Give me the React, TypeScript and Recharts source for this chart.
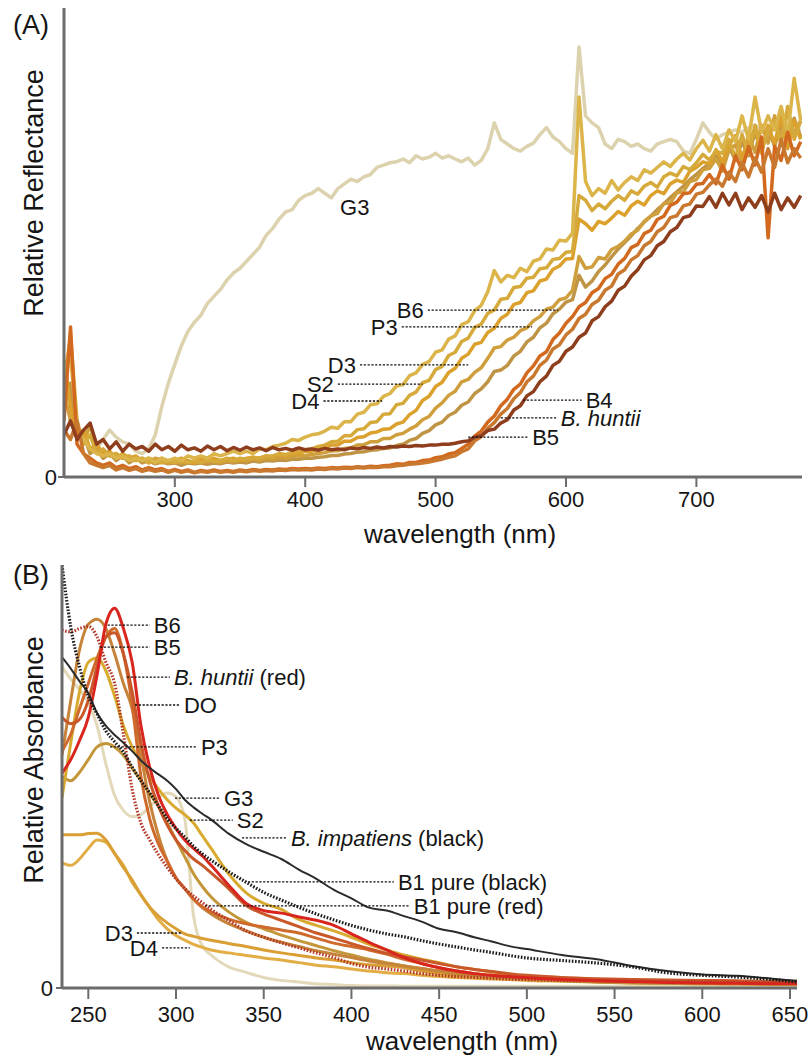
import { LineChart, Line, XAxis, YAxis, ReferenceLine, ReferenceDot } from "recharts";

const FONT = '"Liberation Sans", Arial, Helvetica, sans-serif';
const AXIS = "#6c6c6c";
const INK = "#151515";

// ---- (A) reflectance, 5 nm grid ----
const WL_A = [
  215, 220, 225, 230, 235, 240, 245, 250, 255, 260, 265, 270, 275, 280, 285, 290, 295, 300, 305, 310,
  315, 320, 325, 330, 335, 340, 345, 350, 355, 360, 365, 370, 375, 380, 385, 390, 395, 400, 405, 410,
  415, 420, 425, 430, 435, 440, 445, 450, 455, 460, 465, 470, 475, 480, 485, 490, 495, 500, 505, 510,
  515, 520, 525, 530, 535, 540, 545, 550, 555, 560, 565, 570, 575, 580, 585, 590, 595, 600, 605, 610,
  615, 620, 625, 630, 635, 640, 645, 650, 655, 660, 665, 670, 675, 680, 685, 690, 695, 700, 705, 710,
  715, 720, 725, 730, 735, 740, 745, 750, 755, 760, 765, 770, 775, 780,
];

const G3_A = [
  null, null, null, null, null, 0.06, 0.08, 0.1, 0.085, 0.075,
  0.07, 0.055, 0.05, 0.06, 0.09, 0.15, 0.2, 0.24, 0.28, 0.31,
  0.33, 0.345, 0.37, 0.385, 0.4, 0.42, 0.435, 0.445, 0.46, 0.475,
  0.49, 0.515, 0.53, 0.55, 0.565, 0.57, 0.59, 0.6, 0.605, 0.615,
  0.605, 0.595, 0.615, 0.625, 0.635, 0.63, 0.64, 0.645, 0.66, 0.665,
  0.67, 0.672, 0.678, 0.67, 0.685, 0.678, 0.682, 0.69, 0.68, 0.685,
  0.678, 0.672, 0.68, 0.665, 0.675, 0.7, 0.755, 0.72, 0.71, 0.7,
  0.695, 0.705, 0.712, 0.73, 0.745, 0.725, 0.715, 0.7, 0.69, 0.917,
  0.77, 0.755, 0.745, 0.71, 0.7, 0.72, 0.715, 0.705, 0.71, 0.7,
  0.695, 0.71, 0.715, 0.72, 0.715, 0.695, 0.69, 0.72, 0.755, 0.735,
  0.72, 0.73, 0.735, 0.74, 0.735, 0.745, 0.75, 0.74, 0.745, 0.75,
  0.74, 0.745, 0.74, 0.74,
];
const B6_A = [
  0.15, 0.2, 0.08, 0.09, 0.05, 0.06, 0.04, 0.05, 0.035, 0.045,
  0.03, 0.04, 0.03, 0.035, 0.028, 0.032, 0.028, 0.03, 0.025, 0.03,
  0.028, 0.03, 0.027, 0.03, 0.028, 0.032, 0.03, 0.032, 0.03, 0.034,
  0.032, 0.035, 0.034, 0.036, 0.035, 0.038, 0.038, 0.04, 0.04, 0.042,
  0.043, 0.046, 0.046, 0.049, 0.05, 0.053, 0.054, 0.057, 0.058, 0.061,
  0.062, 0.067, 0.07, 0.078, 0.082, 0.093, 0.099, 0.111, 0.117, 0.131,
  0.138, 0.153, 0.16, 0.178, 0.188, 0.203, 0.225, 0.228, 0.238, 0.258,
  0.268, 0.288, 0.298, 0.318, 0.328, 0.348, 0.358, 0.373, 0.378, 0.43,
  0.405, 0.418, 0.438, 0.452, 0.47, 0.486, 0.5, 0.514, 0.53, 0.543,
  0.556, 0.57, 0.582, 0.596, 0.608, 0.62, 0.634, 0.645, 0.658, 0.668,
  0.685, 0.665, 0.705, 0.675, 0.715, 0.685, 0.735, 0.695, 0.745, 0.705,
  0.755, 0.715, 0.765, 0.725,
];
const P3_A = [
  0.18, 0.12, 0.1, 0.075, 0.11, 0.06, 0.05, 0.045, 0.05, 0.04,
  0.045, 0.035, 0.04, 0.03, 0.04, 0.035, 0.03, 0.035, 0.03, 0.035,
  0.03, 0.035, 0.032, 0.035, 0.03, 0.035, 0.032, 0.036, 0.034, 0.038,
  0.036, 0.04, 0.038, 0.042, 0.04, 0.044, 0.045, 0.046, 0.048, 0.05,
  0.052, 0.056, 0.056, 0.061, 0.062, 0.068, 0.069, 0.075, 0.075, 0.082,
  0.082, 0.09, 0.093, 0.102, 0.109, 0.122, 0.129, 0.147, 0.158, 0.174,
  0.183, 0.203, 0.208, 0.223, 0.233, 0.253, 0.275, 0.278, 0.292, 0.298,
  0.312, 0.318, 0.333, 0.342, 0.358, 0.362, 0.378, 0.382, 0.398, 0.47,
  0.445, 0.448, 0.468, 0.465, 0.485, 0.492, 0.503, 0.518, 0.526, 0.545,
  0.556, 0.562, 0.583, 0.584, 0.606, 0.608, 0.63, 0.634, 0.655, 0.658,
  0.678, 0.652, 0.698, 0.708, 0.672, 0.728, 0.692, 0.75, 0.712, 0.77,
  0.72, 0.78, 0.73, 0.76,
];
const D3_A = [
  0.25, 0.15, 0.09, 0.1, 0.06, 0.07, 0.05, 0.055, 0.04, 0.05,
  0.04, 0.045, 0.035, 0.04, 0.035, 0.04, 0.03, 0.035, 0.04, 0.035,
  0.03, 0.04, 0.035, 0.04, 0.035, 0.038, 0.04, 0.035, 0.04, 0.042,
  0.04, 0.045, 0.042, 0.048, 0.045, 0.05, 0.05, 0.055, 0.055, 0.06,
  0.062, 0.068, 0.068, 0.076, 0.076, 0.084, 0.086, 0.094, 0.096, 0.102,
  0.103, 0.113, 0.117, 0.133, 0.142, 0.163, 0.172, 0.193, 0.202, 0.223,
  0.232, 0.253, 0.262, 0.283, 0.287, 0.308, 0.317, 0.338, 0.347, 0.368,
  0.372, 0.393, 0.397, 0.418, 0.422, 0.443, 0.45, 0.465, 0.466, 0.55,
  0.54, 0.526, 0.545, 0.54, 0.552, 0.566, 0.558, 0.578, 0.588, 0.58,
  0.6, 0.61, 0.604, 0.625, 0.633, 0.628, 0.652, 0.66, 0.672, 0.668,
  0.698, 0.672, 0.708, 0.728, 0.68, 0.72, 0.74, 0.69, 0.75, 0.71,
  0.77, 0.7, 0.76, 0.72,
];
const S2_A = [
  0.2, 0.3, 0.12, 0.07, 0.09, 0.05, 0.06, 0.045, 0.05, 0.04,
  0.045, 0.035, 0.04, 0.03, 0.035, 0.03, 0.035, 0.03, 0.035, 0.03,
  0.035, 0.03, 0.038, 0.032, 0.035, 0.04, 0.035, 0.04, 0.038, 0.042,
  0.04, 0.045, 0.045, 0.05, 0.048, 0.052, 0.055, 0.058, 0.06, 0.065,
  0.068, 0.075, 0.076, 0.088, 0.088, 0.101, 0.103, 0.116, 0.118, 0.134,
  0.135, 0.154, 0.157, 0.174, 0.181, 0.201, 0.206, 0.229, 0.236, 0.259,
  0.266, 0.289, 0.296, 0.319, 0.326, 0.349, 0.356, 0.379, 0.381, 0.404,
  0.406, 0.424, 0.426, 0.444, 0.446, 0.464, 0.466, 0.479, 0.481, 0.6,
  0.59, 0.568, 0.582, 0.572, 0.588, 0.6, 0.59, 0.61, 0.603, 0.62,
  0.628, 0.618, 0.64, 0.648, 0.642, 0.662, 0.655, 0.67, 0.688, 0.676,
  0.695, 0.69, 0.72, 0.68, 0.73, 0.69, 0.75, 0.7, 0.74, 0.76,
  0.71, 0.79, 0.72, 0.76,
];
const D4_A = [
  0.22, 0.26, 0.1, 0.08, 0.06, 0.05, 0.045, 0.05, 0.04, 0.045,
  0.035, 0.04, 0.035, 0.04, 0.03, 0.04, 0.035, 0.04, 0.035, 0.045,
  0.04, 0.045, 0.04, 0.05, 0.045, 0.05, 0.055, 0.05, 0.055, 0.05,
  0.06, 0.058, 0.065, 0.068, 0.072, 0.08, 0.078, 0.085, 0.09, 0.092,
  0.098, 0.106, 0.104, 0.118, 0.118, 0.134, 0.138, 0.154, 0.156, 0.172,
  0.178, 0.194, 0.197, 0.216, 0.222, 0.24, 0.246, 0.266, 0.271, 0.294,
  0.301, 0.325, 0.331, 0.355, 0.366, 0.395, 0.44, 0.416, 0.43, 0.425,
  0.445, 0.438, 0.46, 0.465, 0.486, 0.484, 0.505, 0.503, 0.52, 0.81,
  0.63, 0.6, 0.615, 0.605, 0.632, 0.612, 0.628, 0.64, 0.632, 0.655,
  0.648, 0.66, 0.672, 0.662, 0.678, 0.69, 0.676, 0.7, 0.718, 0.695,
  0.73, 0.7, 0.74, 0.715, 0.77, 0.72, 0.81, 0.735, 0.77, 0.74,
  0.79, 0.73, 0.85, 0.76,
];
const B4_A = [
  0.12, 0.32, 0.07, 0.05, 0.04, 0.03, 0.025, 0.03, 0.02, 0.025,
  0.018, 0.022, 0.015, 0.02, 0.015, 0.018, 0.012, 0.016, 0.012, 0.015,
  0.01, 0.014, 0.012, 0.015, 0.012, 0.014, 0.012, 0.015, 0.013, 0.016,
  0.014, 0.016, 0.015, 0.017, 0.016, 0.018, 0.017, 0.018, 0.017, 0.019,
  0.018, 0.02, 0.019, 0.021, 0.02, 0.022, 0.021, 0.023, 0.022, 0.024,
  0.025, 0.028, 0.027, 0.031, 0.031, 0.035, 0.036, 0.041, 0.043, 0.049,
  0.052, 0.061, 0.07, 0.087, 0.098, 0.117, 0.13, 0.152, 0.166, 0.187,
  0.198, 0.222, 0.237, 0.258, 0.267, 0.293, 0.307, 0.328, 0.342, 0.363,
  0.372, 0.393, 0.402, 0.423, 0.432, 0.454, 0.466, 0.489, 0.496, 0.519,
  0.526, 0.549, 0.556, 0.579, 0.586, 0.604, 0.606, 0.624, 0.626, 0.645,
  0.625, 0.665, 0.635, 0.685, 0.655, 0.705, 0.665, 0.725, 0.51, 0.705,
  0.675, 0.735, 0.685, 0.715,
];
const BHUNTII_A = [
  0.1, 0.08, 0.12, 0.05, 0.03, 0.025, 0.02, 0.025, 0.015, 0.02,
  0.014, 0.018, 0.012, 0.016, 0.012, 0.015, 0.01, 0.014, 0.01, 0.013,
  0.009, 0.012, 0.01, 0.013, 0.01, 0.012, 0.01, 0.013, 0.011, 0.014,
  0.012, 0.014, 0.013, 0.015, 0.014, 0.016, 0.015, 0.016, 0.015, 0.017,
  0.016, 0.018, 0.017, 0.019, 0.018, 0.02, 0.019, 0.021, 0.02, 0.022,
  0.022, 0.024, 0.025, 0.027, 0.028, 0.03, 0.032, 0.035, 0.038, 0.042,
  0.045, 0.054, 0.06, 0.077, 0.086, 0.104, 0.116, 0.134, 0.146, 0.167,
  0.18, 0.203, 0.215, 0.238, 0.249, 0.273, 0.282, 0.303, 0.315, 0.338,
  0.347, 0.368, 0.377, 0.398, 0.407, 0.433, 0.442, 0.463, 0.472, 0.493,
  0.502, 0.523, 0.532, 0.553, 0.557, 0.578, 0.582, 0.603, 0.607, 0.623,
  0.635, 0.62, 0.65, 0.63, 0.67, 0.64, 0.68, 0.65, 0.7, 0.66,
  0.72, 0.67, 0.7, 0.68,
];
const B5_A = [
  0.09, 0.12, 0.08, 0.1, 0.115, 0.07, 0.08, 0.06, 0.075, 0.055,
  0.07, 0.06, 0.065, 0.055, 0.07, 0.058, 0.065, 0.055, 0.068, 0.058,
  0.062, 0.055, 0.066, 0.058, 0.065, 0.056, 0.063, 0.057, 0.064, 0.058,
  0.062, 0.056, 0.063, 0.058, 0.061, 0.057, 0.062, 0.058, 0.06, 0.057,
  0.061, 0.058, 0.06, 0.058, 0.062, 0.06, 0.063, 0.061, 0.064, 0.062,
  0.065, 0.064, 0.066, 0.065, 0.067, 0.066, 0.068, 0.068, 0.07, 0.07,
  0.072, 0.075, 0.077, 0.085, 0.088, 0.099, 0.102, 0.115, 0.122, 0.143,
  0.152, 0.173, 0.182, 0.203, 0.215, 0.238, 0.247, 0.268, 0.277, 0.298,
  0.307, 0.333, 0.342, 0.363, 0.375, 0.398, 0.407, 0.428, 0.442, 0.463,
  0.472, 0.493, 0.502, 0.523, 0.532, 0.553, 0.557, 0.578, 0.577, 0.598,
  0.575, 0.605, 0.58, 0.605, 0.57, 0.595, 0.575, 0.6, 0.565, 0.605,
  0.57, 0.595, 0.575, 0.6,
];

// ---- (B) absorbance ----
const WL_B = [
  235, 240, 245, 250, 255, 260, 265, 270, 275, 280, 285, 290, 295, 300, 305, 310, 315, 320, 330, 340,
  350, 360, 370, 380, 390, 400, 410, 420, 430, 440, 450, 460, 470, 480, 490, 500, 520, 540, 560, 580,
  600, 620, 640, 654,
];
const G3_B = [
  0.76, 0.73, 0.705, 0.675, 0.62, 0.53, 0.455, 0.42, 0.405, 0.41,
  0.428, 0.45, 0.461, 0.452, 0.4, 0.17, 0.1, 0.078, 0.05, 0.037,
  0.025, 0.018, 0.014, 0.01, 0.008, 0.006, 0.005, 0.005, 0.004, 0.004,
  0.004, 0.004, 0.004, 0.004, 0.004, 0.004, 0.004, 0.004, 0.004, 0.004,
  0.004, 0.004, 0.004, 0.004,
];
const D4_B = [
  0.296, 0.29, 0.305, 0.33, 0.35, 0.345, 0.318, 0.29, 0.25, 0.22,
  0.19, 0.161, 0.14, 0.124, 0.113, 0.103, 0.096, 0.09, 0.083, 0.077,
  0.071, 0.066, 0.06, 0.054, 0.05, 0.045, 0.04, 0.036, 0.034, 0.03,
  0.027, 0.025, 0.023, 0.021, 0.02, 0.018, 0.016, 0.014, 0.012, 0.011,
  0.01, 0.01, 0.009, 0.009,
];
const D3_B = [
  0.362, 0.362, 0.362, 0.365, 0.366, 0.35, 0.318, 0.285, 0.255, 0.22,
  0.191, 0.17, 0.154, 0.14, 0.128, 0.122, 0.117, 0.113, 0.105, 0.098,
  0.09, 0.083, 0.077, 0.071, 0.066, 0.06, 0.055, 0.052, 0.048, 0.04,
  0.034, 0.03, 0.027, 0.024, 0.022, 0.02, 0.017, 0.015, 0.013, 0.012,
  0.011, 0.01, 0.01, 0.01,
];
const P3_B = [
  0.5, 0.49, 0.51, 0.54, 0.57, 0.578, 0.57, 0.55, 0.52, 0.49,
  0.46, 0.43, 0.39, 0.35, 0.31, 0.27, 0.24, 0.215, 0.18, 0.155,
  0.14, 0.125, 0.112, 0.1, 0.088, 0.078, 0.068, 0.06, 0.052, 0.046,
  0.04, 0.035, 0.03, 0.027, 0.024, 0.021, 0.017, 0.014, 0.012, 0.011,
  0.01, 0.01, 0.009, 0.009,
];
const S2_B = [
  0.45, 0.58, 0.7, 0.77, 0.78, 0.75, 0.69, 0.62, 0.57, 0.535,
  0.5, 0.47, 0.445, 0.425, 0.41, 0.39, 0.36, 0.33, 0.27, 0.225,
  0.2, 0.186, 0.162, 0.148, 0.135, 0.12, 0.103, 0.09, 0.078, 0.068,
  0.06, 0.05, 0.044, 0.038, 0.032, 0.027, 0.022, 0.018, 0.016, 0.014,
  0.013, 0.012, 0.012, 0.011,
];
const DO_B = [
  0.55, 0.68, 0.8, 0.86, 0.872, 0.85, 0.79, 0.72, 0.66, 0.55,
  0.44, 0.36, 0.3, 0.26, 0.235, 0.21, 0.19, 0.175, 0.152, 0.135,
  0.12, 0.108, 0.098, 0.088, 0.08, 0.072, 0.064, 0.058, 0.052, 0.046,
  0.04, 0.035, 0.031, 0.028, 0.025, 0.022, 0.018, 0.015, 0.013, 0.012,
  0.011, 0.01, 0.01, 0.01,
];
const B5_B = [
  0.56, 0.6, 0.66, 0.72, 0.78, 0.83, 0.85, 0.79, 0.67, 0.5,
  0.4, 0.34, 0.3, 0.26, 0.235, 0.21, 0.192, 0.18, 0.163, 0.152,
  0.144, 0.137, 0.13, 0.118, 0.106, 0.098, 0.09, 0.08, 0.068, 0.058,
  0.048, 0.04, 0.034, 0.03, 0.027, 0.025, 0.022, 0.02, 0.018, 0.017,
  0.016, 0.015, 0.015, 0.015,
];
const BHUNTII_B = [
  0.64, 0.625, 0.635, 0.68, 0.76, 0.83, 0.84, 0.79, 0.7, 0.58,
  0.49, 0.43, 0.385, 0.35, 0.325, 0.305, 0.29, 0.272, 0.235, 0.195,
  0.175, 0.16, 0.145, 0.13, 0.118, 0.105, 0.093, 0.082, 0.074, 0.066,
  0.058, 0.05, 0.044, 0.039, 0.034, 0.03, 0.025, 0.022, 0.02, 0.019,
  0.018, 0.017, 0.016, 0.016,
];
const B1RED_B = [
  0.846, 0.842, 0.85, 0.855, 0.83, 0.77, 0.72, 0.6, 0.47, 0.39,
  0.35, 0.315, 0.285, 0.258, 0.235, 0.217, 0.202, 0.186, 0.16, 0.135,
  0.12, 0.107, 0.095, 0.083, 0.072, 0.058, 0.049, 0.045, 0.04, 0.034,
  0.03, 0.027, 0.025, 0.023, 0.021, 0.02, 0.018, 0.017, 0.016, 0.015,
  0.014, 0.013, 0.012, 0.012,
];
const B6_B = [
  0.508, 0.54, 0.585, 0.64, 0.74, 0.86, 0.898, 0.85, 0.77, 0.62,
  0.522, 0.455, 0.41, 0.377, 0.35, 0.33, 0.312, 0.29, 0.243, 0.2,
  0.183, 0.177, 0.168, 0.16, 0.148, 0.128, 0.108, 0.09, 0.072, 0.058,
  0.048, 0.04, 0.034, 0.03, 0.027, 0.024, 0.02, 0.017, 0.015, 0.013,
  0.012, 0.011, 0.01, 0.01,
];
const BIMP_B = [
  0.782, 0.755, 0.725, 0.697, 0.65, 0.62, 0.598, 0.58, 0.56, 0.538,
  0.52, 0.505, 0.49, 0.47, 0.445, 0.427, 0.412, 0.398, 0.365, 0.34,
  0.322, 0.305, 0.28, 0.258, 0.232, 0.212, 0.19, 0.183, 0.17, 0.157,
  0.14, 0.132, 0.12, 0.11, 0.099, 0.092, 0.078, 0.068, 0.052, 0.04,
  0.032, 0.029, 0.022, 0.017,
];
const B1BLACK_B = [
  1.0, 0.853, 0.759, 0.69, 0.648, 0.608, 0.582, 0.558, 0.522, 0.49,
  0.461, 0.43, 0.4, 0.377, 0.357, 0.335, 0.317, 0.302, 0.275, 0.25,
  0.226, 0.208, 0.191, 0.175, 0.161, 0.148, 0.137, 0.128, 0.121, 0.112,
  0.104, 0.097, 0.09, 0.084, 0.077, 0.071, 0.065, 0.059, 0.05, 0.036,
  0.03, 0.026, 0.02, 0.014,
];

const rowsA = WL_A.map((w, i) => ({
  w, G3: G3_A[i], B6: B6_A[i], P3: P3_A[i], D3: D3_A[i], S2: S2_A[i], D4: D4_A[i],
  B4: B4_A[i], BH: BHUNTII_A[i], B5: B5_A[i],
}));
const rowsB = WL_B.map((w, i) => ({
  w, G3: G3_B[i], D4: D4_B[i], D3: D3_B[i], P3: P3_B[i], S2: S2_B[i], DO: DO_B[i], B5: B5_B[i],
  BH: BHUNTII_B[i], B1R: B1RED_B[i], B6: B6_B[i], BI: BIMP_B[i], B1K: B1BLACK_B[i],
}));

const SERIES_A = [
  { key: "G3", color: "#dcd2ae" },
  { key: "B6", color: "#bf9545" },
  { key: "P3", color: "#cf9f3e" },
  { key: "D3", color: "#dca02c" },
  { key: "S2", color: "#d6aa3a" },
  { key: "D4", color: "#dbb44a" },
  { key: "B4", color: "#d2691f" },
  { key: "BH", color: "#c9782f" },
  { key: "B5", color: "#8e3e1c" },
];
const SERIES_B = [
  { key: "G3", color: "#e3d8b9", w: 3, dash: undefined },
  { key: "D4", color: "#e2ad45", w: 3, dash: undefined },
  { key: "D3", color: "#d99f35", w: 3, dash: undefined },
  { key: "P3", color: "#c4963a", w: 3, dash: undefined },
  { key: "S2", color: "#d8aa30", w: 3, dash: undefined },
  { key: "DO", color: "#c6843a", w: 3, dash: undefined },
  { key: "B5", color: "#d06a2c", w: 3, dash: undefined },
  { key: "BH", color: "#c8582a", w: 3, dash: undefined },
  { key: "B1R", color: "#b43a2a", w: 3.2, dash: "1.6 1.6" },
  { key: "B6", color: "#d8261e", w: 3, dash: undefined },
  { key: "BI", color: "#2b2b2b", w: 2, dash: undefined },
  { key: "B1K", color: "#1c1c1c", w: 3.2, dash: "1.6 1.6" },
];

type Part = { t: string; i?: boolean };
type Leader = { parts: Part[]; x1: number; x2: number; y: number; side: "left" | "right" };

const LEADERS_A: Leader[] = [
  { parts: [{ t: "B6" }], x1: 494, x2: 594, y: 0.356, side: "left" },
  { parts: [{ t: "P3" }], x1: 474, x2: 574, y: 0.32, side: "left" },
  { parts: [{ t: "D3" }], x1: 442, x2: 525, y: 0.239, side: "left" },
  { parts: [{ t: "S2" }], x1: 425, x2: 490, y: 0.198, side: "left" },
  { parts: [{ t: "D4" }], x1: 414, x2: 459, y: 0.162, side: "left" },
  { parts: [{ t: "B4" }], x1: 567, x2: 612, y: 0.164, side: "right" },
  { parts: [{ t: "B. huntii", i: true }], x1: 550, x2: 593, y: 0.126, side: "right" },
  { parts: [{ t: "B5" }], x1: 525, x2: 571, y: 0.085, side: "right" },
];
const LEADERS_B: Leader[] = [
  { parts: [{ t: "B6" }], x1: 261, x2: 285, y: 0.858, side: "right" },
  { parts: [{ t: "B5" }], x1: 256.7, x2: 285, y: 0.806, side: "right" },
  { parts: [{ t: "B. huntii", i: true }, { t: " (red)" }], x1: 272, x2: 296.5, y: 0.735, side: "right" },
  { parts: [{ t: "DO" }], x1: 276.6, x2: 302.2, y: 0.669, side: "right" },
  { parts: [{ t: "P3" }], x1: 262.4, x2: 311.9, y: 0.57, side: "right" },
  { parts: [{ t: "G3" }], x1: 299.4, x2: 325, y: 0.449, side: "right" },
  { parts: [{ t: "S2" }], x1: 307.9, x2: 332.4, y: 0.397, side: "right" },
  { parts: [{ t: "B. impatiens", i: true }, { t: " (black)" }], x1: 337.6, x2: 363.2, y: 0.355, side: "right" },
  { parts: [{ t: "B1 pure (black)" }], x1: 341, x2: 424.2, y: 0.251, side: "right" },
  { parts: [{ t: "B1 pure (red)" }], x1: 316.5, x2: 433.3, y: 0.194, side: "right" },
  { parts: [{ t: "D3" }], x1: 277.7, x2: 303.4, y: 0.13, side: "left" },
  { parts: [{ t: "D4" }], x1: 292, x2: 307.9, y: 0.095, side: "left" },
];

function leaderText(parts: Part[], side: "left" | "right") {
  return (props: any) => {
    const vb = props.viewBox || {};
    const x = side === "right" ? vb.x + vb.width + 4 : vb.x - 4;
    const y = vb.y + (vb.height || 0) / 2;
    return (
      <text x={x} y={y} dy="0.36em" textAnchor={side === "right" ? "start" : "end"}
        fontSize={22} fontFamily={FONT} fill={INK}>
        {parts.map((p, k) => (
          <tspan key={k} fontStyle={p.i ? "italic" : "normal"}>{p.t}</tspan>
        ))}
      </text>
    );
  };
}

function renderLeaders(list: Leader[]) {
  return list.map((l, k) => (
    <ReferenceLine
      key={"ld" + k}
      segment={[{ x: l.x1, y: l.y }, { x: l.x2, y: l.y }]}
      stroke="#111"
      strokeWidth={1.3}
      strokeDasharray="2.2 1.6"
      label={leaderText(l.parts, l.side)}
    />
  ));
}

const tickStyle = { fontSize: 22, fill: INK, fontFamily: FONT };

function Panel(props: { letter: string; letterY: number; title: string; titleY: number }) {
  return (
    <g>
      <text x={13} y={props.letterY} fontSize={27} fontFamily={FONT} fill={INK}>
        {props.letter}
      </text>
      <text transform={`translate(43, ${props.titleY}) rotate(-90)`} textAnchor="middle"
        fontSize={27} fontFamily={FONT} fill={INK}>
        {props.title}
      </text>
    </g>
  );
}

export default function App() {
  return (
    <div style={{ position: "absolute", left: 0, top: 0, width: 810, height: 1059, background: "#fff", fontFamily: FONT }}>
      <div style={{ position: "absolute", left: 0, top: 0 }}>
        <LineChart width={810} height={560} data={rowsA} margin={{ top: 8, right: 8, left: 0, bottom: 0 }}>
          <XAxis
            dataKey="w" type="number" domain={[215, 781]} allowDataOverflow
            ticks={[300, 400, 500, 600, 700]} height={83}
            axisLine={{ stroke: AXIS, strokeWidth: 3 }} tickLine={{ stroke: AXIS, strokeWidth: 2 }}
            tickSize={10} tickMargin={4} tick={tickStyle}
            label={() => (
              <text x={460} y={543} textAnchor="middle" fontSize={26} fontFamily={FONT} fill={INK}>wavelength (nm)</text>
            )}
          />
          <YAxis
            type="number" domain={[0, 1]} allowDataOverflow ticks={[0]} width={64}
            axisLine={{ stroke: AXIS, strokeWidth: 3 }} tickLine={{ stroke: AXIS, strokeWidth: 2 }}
            tickSize={6} tickMargin={1} tick={tickStyle}
            label={() => <Panel letter="(A)" letterY={34} title="Relative Reflectance" titleY={193} />}
          />
          {SERIES_A.map((s) => (
            <Line key={s.key} dataKey={s.key} type="linear" stroke={s.color} strokeWidth={3.5}
              strokeLinejoin="round" dot={false} activeDot={false} isAnimationActive={false} />
          ))}
          {renderLeaders(LEADERS_A)}
          <ReferenceDot x={438} y={0.576} r={1} fill="none" stroke="none"
            label={(p: any) => (
              <text x={p.viewBox.x + p.viewBox.width / 2} y={p.viewBox.y + p.viewBox.height / 2} dy="0.36em"
                textAnchor="middle" fontSize={22} fontFamily={FONT} fill={INK}>G3</text>
            )}
          />
        </LineChart>
      </div>
      <div style={{ position: "absolute", left: 0, top: 560 }}>
        <LineChart width={810} height={499} data={rowsB} margin={{ top: 5, right: 13, left: 0, bottom: 0 }}>
          <XAxis
            dataKey="w" type="number" domain={[235, 654]} allowDataOverflow
            ticks={[250, 300, 350, 400, 450, 500, 550, 600, 650]} height={71}
            axisLine={{ stroke: AXIS, strokeWidth: 3 }} tickLine={{ stroke: AXIS, strokeWidth: 2 }}
            tickSize={11} tickMargin={7} tick={tickStyle}
            label={() => (
              <text x={462} y={490} textAnchor="middle" fontSize={26} fontFamily={FONT} fill={INK}>wavelength (nm)</text>
            )}
          />
          <YAxis
            type="number" domain={[0, 1]} allowDataOverflow ticks={[0]} width={62}
            axisLine={{ stroke: AXIS, strokeWidth: 3 }} tickLine={{ stroke: AXIS, strokeWidth: 2 }}
            tickSize={6} tickMargin={3} tick={tickStyle}
            label={() => <Panel letter="(B)" letterY={24} title="Relative Absorbance" titleY={200} />}
          />
          {SERIES_B.map((s) => (
            <Line key={s.key} dataKey={s.key} type="monotone" stroke={s.color} strokeWidth={s.w}
              strokeDasharray={s.dash} dot={false} activeDot={false} isAnimationActive={false} />
          ))}
          {renderLeaders(LEADERS_B)}
        </LineChart>
      </div>
    </div>
  );
}
